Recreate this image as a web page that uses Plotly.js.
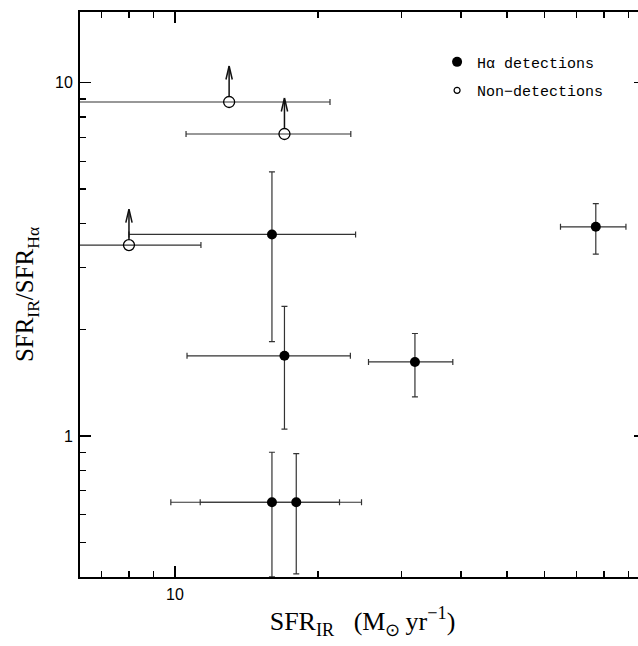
<!DOCTYPE html>
<html>
<head>
<meta charset="utf-8">
<script src="https://cdn.plot.ly/plotly-3.0.1.min.js"></script>
<style>
html, body { margin: 0; padding: 0; background: #fff; overflow: hidden; }
#chart { width: 646px; height: 646px; }
</style>
</head>
<body>
<div id="chart"></div>
<script>
// Hα detections
var detX     = [16.0, 17.0, 32.0, 76.9, 16.0, 18.0];
var detY     = [3.72, 1.686, 1.62, 3.91, 0.649, 0.649];
var detXerr  = [8.0, 6.4, 6.45, 12.1, 6.2, 6.7];
var detYerr  = [1.87, 0.64, 0.33, 0.64, 0.25, 0.242];

// Non-detections (lower limits)
var nonX     = [13.0, 17.0, 8.0];
var nonY     = [8.82, 7.16, 3.47];
var nonXerr  = [8.2, 6.45, 3.34];

var legendLabels = ['H\u03b1 detections', 'Non\u2212detections'];
var xTitle = 'SFR<sub>IR</sub>\u00a0\u00a0\u00a0(M<sub>\u2299</sub>\u2009yr<sup>\u22121</sup>)';
var yTitle = 'SFR<sub>IR</sub>/SFR<sub>H\u03b1</sub>';

var errColor = '#333';

var traces = [
  {
    x: detX, y: detY, type: 'scatter', mode: 'markers', showlegend: false,
    marker: { symbol: 'circle', size: 10, color: '#000' },
    error_x: { type: 'data', array: detXerr, visible: true, color: errColor, thickness: 1.2, width: 3 },
    error_y: { type: 'data', array: detYerr, visible: true, color: errColor, thickness: 1.2, width: 3 },
    hoverinfo: 'skip'
  },
  {
    x: nonX, y: nonY, type: 'scatter', mode: 'markers', showlegend: false,
    marker: { symbol: 'circle-open', size: 11, color: '#000', line: { width: 1.3, color: '#000' } },
    error_x: { type: 'data', array: nonXerr, visible: true, color: errColor, thickness: 1.2, width: 3 },
    hoverinfo: 'skip'
  },
  {
    x: [null], y: [null], type: 'scatter', mode: 'markers', name: legendLabels[0],
    legendgroup: 'a', marker: { symbol: 'circle', size: 10, color: '#000' }
  },
  {
    x: [null], y: [null], type: 'scatter', mode: 'markers', name: legendLabels[1],
    legendgroup: 'b', marker: { symbol: 'circle-open', size: 6, color: '#000', line: { width: 1.2, color: '#000' } }
  }
];

// lower-limit arrows anchored on the non-detection points
var annotations = [];
for (var i = 0; i < nonX.length; i++) {
  var px = Math.log10(nonX[i]), py = Math.log10(nonY[i]);
  // shaft
  annotations.push({ x: px, y: py, xref: 'x', yref: 'y', text: '',
    showarrow: true, arrowhead: 0, arrowwidth: 1.5, arrowcolor: '#111', ax: 0, ay: -36, standoff: 5.5 });
  // two arms of the V head
  [-3.5, 3.5].forEach(function (dx) {
    annotations.push({ x: px, y: py, xref: 'x', yref: 'y', text: '',
      showarrow: true, arrowhead: 0, arrowwidth: 1.5, arrowcolor: '#111', ax: dx, ay: 15, yshift: 36 });
  });
}

var axisCommon = {
  type: 'log', showline: true, linewidth: 2, linecolor: '#000', mirror: 'allticks',
  ticks: 'inside', ticklen: 11, tickwidth: 1.2, tickcolor: '#000', dtick: 1,
  showgrid: false, zeroline: false,
  tickfont: { family: 'Liberation Sans, Arial, sans-serif', size: 16, color: '#000' },
  minor: { ticks: 'inside', ticklen: 6, tickwidth: 1.2, tickcolor: '#000', dtick: 'D1', showgrid: false }
};

var layout = {
  width: 646, height: 646,
  margin: { l: 80, r: 1, t: 12, b: 69 },
  paper_bgcolor: '#fff', plot_bgcolor: '#fff',
  showlegend: true,
  legend: {
    x: 0.632, y: 0.9405, xanchor: 'left', yanchor: 'top', bgcolor: 'rgba(0,0,0,0)',
    font: { family: 'Liberation Mono, monospace', size: 15, color: '#000' },
    tracegroupgap: 6, traceorder: 'grouped', itemwidth: 30
  },
  xaxis: Object.assign({}, axisCommon, {
    range: [0.8, 1.9895], ticklabelstandoff: 2,
    title: { text: xTitle, font: { family: 'Liberation Serif, Times New Roman, serif', size: 26, color: '#000' }, standoff: 10 }
  }),
  yaxis: Object.assign({}, axisCommon, {
    range: [-0.3994, 1.2003], ticklabelstandoff: 2,
    title: { text: yTitle, font: { family: 'Liberation Serif, Times New Roman, serif', size: 25, color: '#000' }, standoff: 14 }
  }),
  shapes: [
    { type: 'line', xref: 'paper', x0: 0, x1: 1, yref: 'y', y0: 0, y1: 0,
      line: { color: '#444', width: 1, dash: '1.5px,2.5px' } }
  ],
  annotations: annotations
};

Plotly.newPlot('chart', traces, layout, { staticPlot: true, displayModeBar: false });
</script>
</body>
</html>
